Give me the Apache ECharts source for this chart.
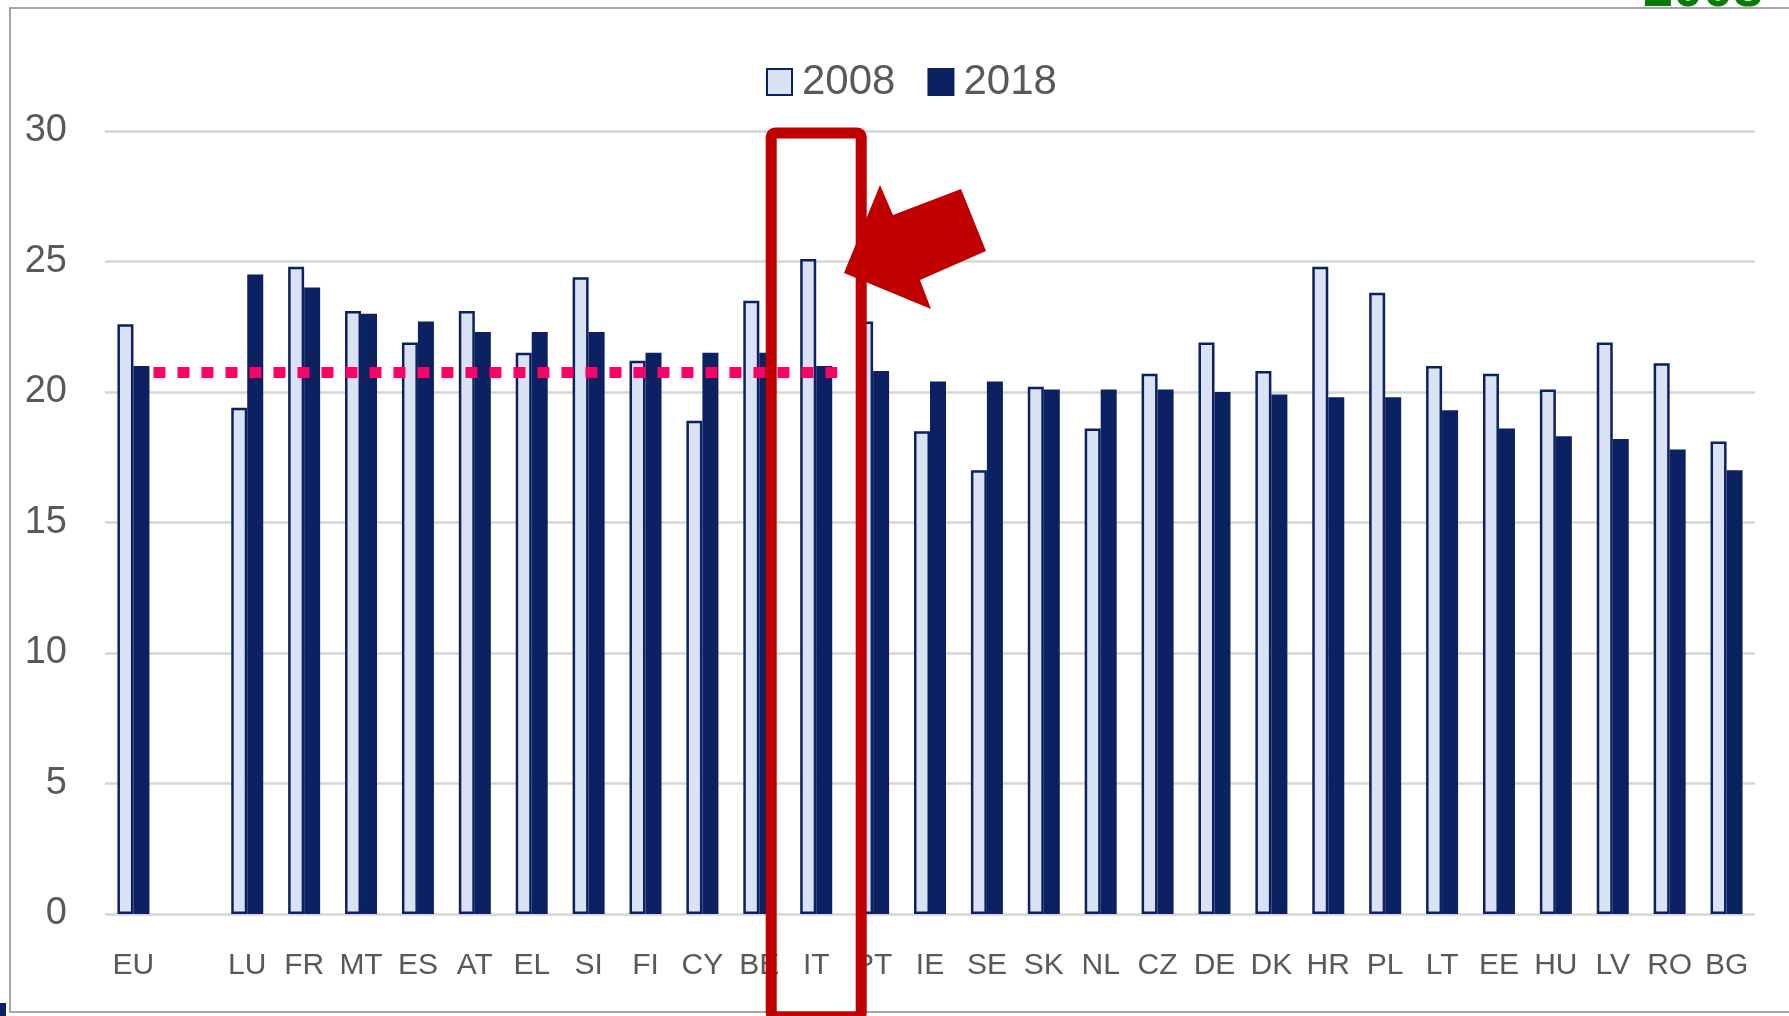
<!DOCTYPE html>
<html>
<head>
<meta charset="utf-8">
<title>2008 vs 2018</title>
<script src="https://cdn.jsdelivr.net/npm/echarts@6/dist/echarts.min.js"></script>
<style>
  html, body { margin: 0; padding: 0; background: #fff; }
  #chart { width: 1789px; height: 1016px; }
</style>
</head>
<body>
<div id="chart"></div>
<script>
// values
const countries = ['EU', '', 'LU', 'FR', 'MT', 'ES', 'AT', 'EL', 'SI', 'FI', 'CY', 'BE', 'IT', 'PT', 'IE', 'SE', 'SK', 'NL', 'CZ', 'DE', 'DK', 'HR', 'PL', 'LT', 'EE', 'HU', 'LV', 'RO', 'BG'];
const values2008 = [22.6, null, 19.4, 24.8, 23.1, 21.9, 23.1, 21.5, 24.4, 21.2, 18.9, 23.5, 25.1, 22.7, 18.5, 17.0, 20.2, 18.6, 20.7, 21.9, 20.8, 24.8, 23.8, 21.0, 20.7, 20.1, 21.9, 21.1, 18.1];
const values2018 = [21.0, null, 24.5, 24.0, 23.0, 22.7, 22.3, 22.3, 22.3, 21.5, 21.5, 21.5, 21.0, 20.8, 20.4, 20.4, 20.1, 20.1, 20.1, 20.0, 19.9, 19.8, 19.8, 19.3, 18.6, 18.3, 18.2, 17.8, 17.0];
const yMin = 0, yMax = 30, yStep = 5;
const refLevel = 20.75;       // dotted pink line
const lineFrom = 'EU', lineTo = 'IT';
const highlighted = 'IT';     // boxed country

const navy = '#0b2161';
const light = '#dae3f3';
const labelGray = '#595959';
const red = '#c00000';
const sansFont = "'Liberation Sans', sans-serif";

const chart = echarts.init(document.getElementById('chart'), null, { renderer: 'canvas' });

const option = {
  animation: false,
  backgroundColor: '#fff',
  legend: {
    left: 766,
    top: 61,
    padding: 0,
    itemWidth: 25,
    itemHeight: 26,
    itemGap: 32,
    icon: 'rect',
    textStyle: { fontSize: 42, color: labelGray, fontFamily: sansFont, padding: [0, 0, 0, 5] },
    data: ['2008', '2018']
  },
  grid: { left: 105, right: 34, top: 131, bottom: 102, containLabel: false },
  xAxis: {
    type: 'category',
    data: countries,
    axisLine: { show: false },
    axisTick: { show: false },
    axisLabel: { interval: 0, margin: 37, fontSize: 30, color: labelGray, fontFamily: sansFont }
  },
  yAxis: {
    type: 'value',
    min: yMin,
    max: yMax,
    interval: yStep,
    axisLine: { show: false },
    axisTick: { show: false },
    axisLabel: { margin: 38, fontSize: 38, color: labelGray, fontFamily: sansFont },
    splitLine: { lineStyle: { color: '#d6d6d6', width: 2.5 } }
  },
  series: [
    {
      name: '2008',
      type: 'bar',
      data: values2008,
      barWidth: 16,
      barGap: '0%',
      itemStyle: { color: light, borderColor: navy, borderWidth: 2.5 }
    },
    {
      name: '2018',
      type: 'bar',
      data: values2018,
      barWidth: 16,
      itemStyle: { color: navy, borderColor: navy, borderWidth: 2.5 }
    }
  ]
};

chart.setOption(option);

// annotations placed from the axes
const yRef = chart.convertToPixel({ yAxisIndex: 0 }, refLevel);
const xStart = chart.convertToPixel({ xAxisIndex: 0 }, lineFrom) + 20;
const xEnd = chart.convertToPixel({ xAxisIndex: 0 }, lineTo) + 21;
const xBox = chart.convertToPixel({ xAxisIndex: 0 }, highlighted);

chart.setOption({
  graphic: [
    // frame around the slide region
    {
      type: 'rect', z: 1, silent: true,
      shape: { x: 10, y: 8, width: 1800, height: 1004 },
      style: { fill: null, stroke: '#a6a6a6', lineWidth: 2 }
    },
    // green title cut off at the top edge
    {
      type: 'text', z: 2, silent: true,
      style: {
        x: 1643, y: -9, text: '2008', fill: '#0a7a0a',
        font: "bold 54px 'Liberation Sans', sans-serif",
        verticalAlign: 'middle'
      }
    },
    {
      type: 'rect', z: 2, silent: true,
      shape: { x: 0, y: 1003, width: 6, height: 14 },
      style: { fill: navy }
    },
    {
      type: 'line', z: 100, silent: true,
      shape: { x1: xStart, y1: yRef, x2: xEnd, y2: yRef },
      style: { stroke: '#ff0066', lineWidth: 11, lineDash: [12, 12] }
    },
    {
      type: 'rect', z: 110, silent: true,
      shape: { x: xBox - 45, y: 133, width: 90, height: 884, r: 4 },
      style: { fill: null, stroke: red, lineWidth: 11 }
    },
    {
      type: 'polygon', z: 120, silent: true,
      shape: {
        points: [[844, 273], [880, 185], [893, 215], [961, 189], [986, 251], [920, 280], [931, 309]]
      },
      style: { fill: red }
    }
  ]
});
</script>
</body>
</html>
